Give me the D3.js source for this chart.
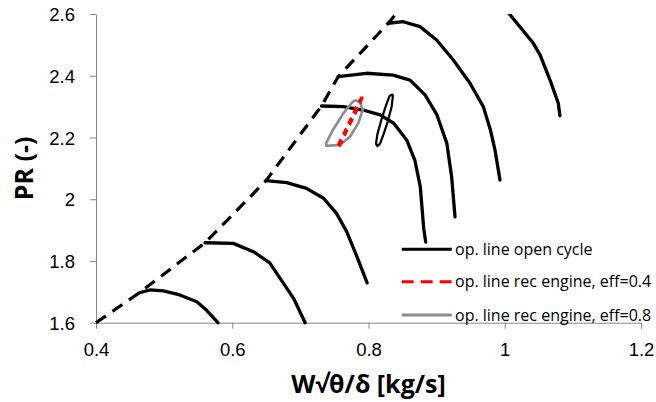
<!DOCTYPE html>
<html>
<head>
<meta charset="utf-8">
<script src="https://cdn.jsdelivr.net/npm/d3@7"></script>
<style>
  body { margin: 0; background: #fff; }
  svg { display: block; font-family: "Open Sans", "Liberation Sans", sans-serif; }
  .axis path, .axis line { stroke: #868686; }
  .axis text { fill: #000; font-size: 18.5px; }
</style>
</head>
<body>
<svg id="chart"></svg>
<script>
// values
var xTicks = [0.4, 0.6, 0.8, 1, 1.2];
var xTickLabels = ["0.4", "0.6", "0.8", "1", "1.2"];
var yTicks = [1.6, 1.8, 2, 2.2, 2.4, 2.6];
var yTickLabels = ["1.6", "1.8", "2", "2.2", "2.4", "2.6"];

// surge line (dashed)
var surgeLine = [[0.4, 1.6], [0.4636, 1.697], [0.560, 1.859], [0.6495, 2.060], [0.731, 2.302],
  [0.7555, 2.397], [0.829, 2.570], [0.855, 2.64]];

// speed lines
var speed1 = [[0.4636, 1.697], [0.479, 1.706], [0.499, 1.703], [0.523, 1.690], [0.548, 1.668], [0.562, 1.641], [0.579, 1.600]];
var speed2 = [[0.560, 1.859], [0.6015, 1.857], [0.631, 1.830], [0.655, 1.794], [0.675, 1.728], [0.690, 1.679], [0.707, 1.600]];
var speed3 = [[0.6495, 2.060], [0.680, 2.0535], [0.709, 2.035], [0.734, 2.003], [0.753, 1.954], [0.768, 1.895], [0.783, 1.814], [0.798, 1.729]];
var speed4 = [[0.731, 2.302], [0.763, 2.300], [0.792, 2.289], [0.817, 2.273], [0.837, 2.246], [0.856, 2.192], [0.868, 2.127], [0.876, 2.041], [0.881, 1.906], [0.884, 1.861]];
var speed5 = [[0.7555, 2.397], [0.797, 2.408], [0.836, 2.402], [0.861, 2.386], [0.883, 2.338], [0.9005, 2.273], [0.915, 2.181], [0.922, 2.073], [0.927, 1.943]];
var speed6 = [[0.829, 2.570], [0.851, 2.575], [0.8756, 2.559], [0.900, 2.516], [0.9245, 2.451], [0.949, 2.3755], [0.9685, 2.300], [0.979, 2.224], [0.9857, 2.159], [0.993, 2.062]];
var speed7 = [[0.985, 2.66], [1.008, 2.597], [1.042, 2.505], [1.052, 2.467], [1.0665, 2.386], [1.0786, 2.311], [1.081, 2.270]];
var speedLines = [speed1, speed2, speed3, speed4, speed5, speed6, speed7];

// operating lines (closed loops)
var opOpen = [[0.836, 2.340], [0.834, 2.30], [0.828, 2.25], [0.822, 2.21], [0.817, 2.18], [0.813, 2.172],
  [0.811, 2.18], [0.813, 2.21], [0.818, 2.25], [0.825, 2.30], [0.831, 2.335], [0.836, 2.340]];
var opRec04 = [[0.7915, 2.331], [0.786, 2.30], [0.777, 2.26], [0.768, 2.22], [0.762, 2.19], [0.756, 2.166],
  [0.754, 2.168], [0.758, 2.19], [0.765, 2.22], [0.7735, 2.26], [0.782, 2.30], [0.789, 2.328], [0.7915, 2.331]];
var opRec08 = [[0.780, 2.321], [0.7875, 2.314], [0.7915, 2.289], [0.785, 2.246], [0.773, 2.203], [0.758, 2.176],
  [0.7385, 2.173], [0.7376, 2.181], [0.748, 2.225], [0.763, 2.278], [0.775, 2.311], [0.780, 2.321]];

var legendLabels = ["op. line open cycle", "op. line rec engine, eff=0.4", "op. line rec engine, eff=0.8"];

var width = 656, height = 402;

var svg = d3.select("#chart")
  .attr("width", width)
  .attr("height", height);

var x = d3.scaleLinear().domain([0.4, 1.2]).range([96, 641]);
var y = d3.scaleLinear().domain([1.6, 2.6]).range([322.7, 14]);

svg.append("defs").append("clipPath")
  .attr("id", "plotClip")
  .append("rect")
  .attr("x", 90).attr("y", 14)
  .attr("width", 560).attr("height", 312);

// axes
svg.append("g")
  .attr("class", "axis")
  .attr("transform", "translate(0," + y(1.6) + ")")
  .call(d3.axisBottom(x).tickValues(xTicks).tickSize(6).tickSizeOuter(0).tickPadding(14)
    .tickFormat((d, i) => xTickLabels[i]));

svg.append("g")
  .attr("class", "axis")
  .attr("transform", "translate(" + x(0.4) + ",0)")
  .call(d3.axisLeft(y).tickValues(yTicks).tickSize(6).tickSizeOuter(0).tickPadding(15)
    .tickFormat((d, i) => yTickLabels[i]))
  .selectAll("text").attr("dy", "0.36em");

svg.selectAll(".axis .domain").attr("stroke-width", 1);

var line = d3.line()
  .x(d => x(d[0]))
  .y(d => y(d[1]));

var plot = svg.append("g").attr("clip-path", "url(#plotClip)");

// surge line
plot.append("path")
  .datum(surgeLine)
  .attr("d", line)
  .attr("fill", "none")
  .attr("stroke", "#000")
  .attr("stroke-width", 3.2)
  .attr("stroke-dasharray", "12,8");

// speed lines
plot.selectAll(".speed")
  .data(speedLines)
  .enter().append("path")
  .attr("class", "speed")
  .attr("d", line)
  .attr("fill", "none")
  .attr("stroke", "#000")
  .attr("stroke-width", 3.3)
  .attr("stroke-linejoin", "round")
  .attr("stroke-linecap", "round");

// op. lines
plot.append("path")
  .datum(opRec08)
  .attr("d", line)
  .attr("fill", "none")
  .attr("stroke", "#8c8c8c")
  .attr("stroke-width", 2.6);

plot.append("path")
  .datum(opRec04)
  .attr("d", line)
  .attr("fill", "none")
  .attr("stroke", "#ff0000")
  .attr("stroke-width", 2.4)
  .attr("stroke-dasharray", "7,5");

plot.append("path")
  .datum(opOpen)
  .attr("d", line)
  .attr("fill", "none")
  .attr("stroke", "#000")
  .attr("stroke-width", 2.2)
  .attr("stroke-linejoin", "round");

// legend
var legendStyles = [
  {stroke: "#000", width: 3, dash: null},
  {stroke: "#ff0000", width: 3, dash: "12,7"},
  {stroke: "#8c8c8c", width: 3, dash: null}
];
var legendY = [249.3, 281.7, 315];

var legend = svg.selectAll(".legend")
  .data(legendLabels)
  .enter().append("g")
  .attr("class", "legend")
  .attr("transform", (d, i) => "translate(0," + legendY[i] + ")");

legend.append("line")
  .attr("x1", 401.7).attr("x2", 451.7)
  .attr("y1", 0).attr("y2", 0)
  .attr("stroke", (d, i) => legendStyles[i].stroke)
  .attr("stroke-width", (d, i) => legendStyles[i].width)
  .attr("stroke-dasharray", (d, i) => legendStyles[i].dash);

legend.append("text")
  .attr("x", 455)
  .attr("y", 0)
  .attr("dy", "0.35em")
  .style("font-size", "16px")
  .text(d => d);

// axis titles
svg.append("text")
  .attr("transform", "translate(33," + ((y(1.6) + y(2.6)) / 2) + ") rotate(-90)")
  .attr("text-anchor", "middle")
  .style("font-size", "25px")
  .style("font-weight", "bold")
  .text("PR (-)");

svg.append("text")
  .attr("x", (x(0.4) + x(1.2)) / 2)
  .attr("y", 393)
  .attr("text-anchor", "middle")
  .style("font-size", "25px")
  .style("font-weight", "bold")
  .text("W√θ/δ [kg/s]");
</script>
</body>
</html>
